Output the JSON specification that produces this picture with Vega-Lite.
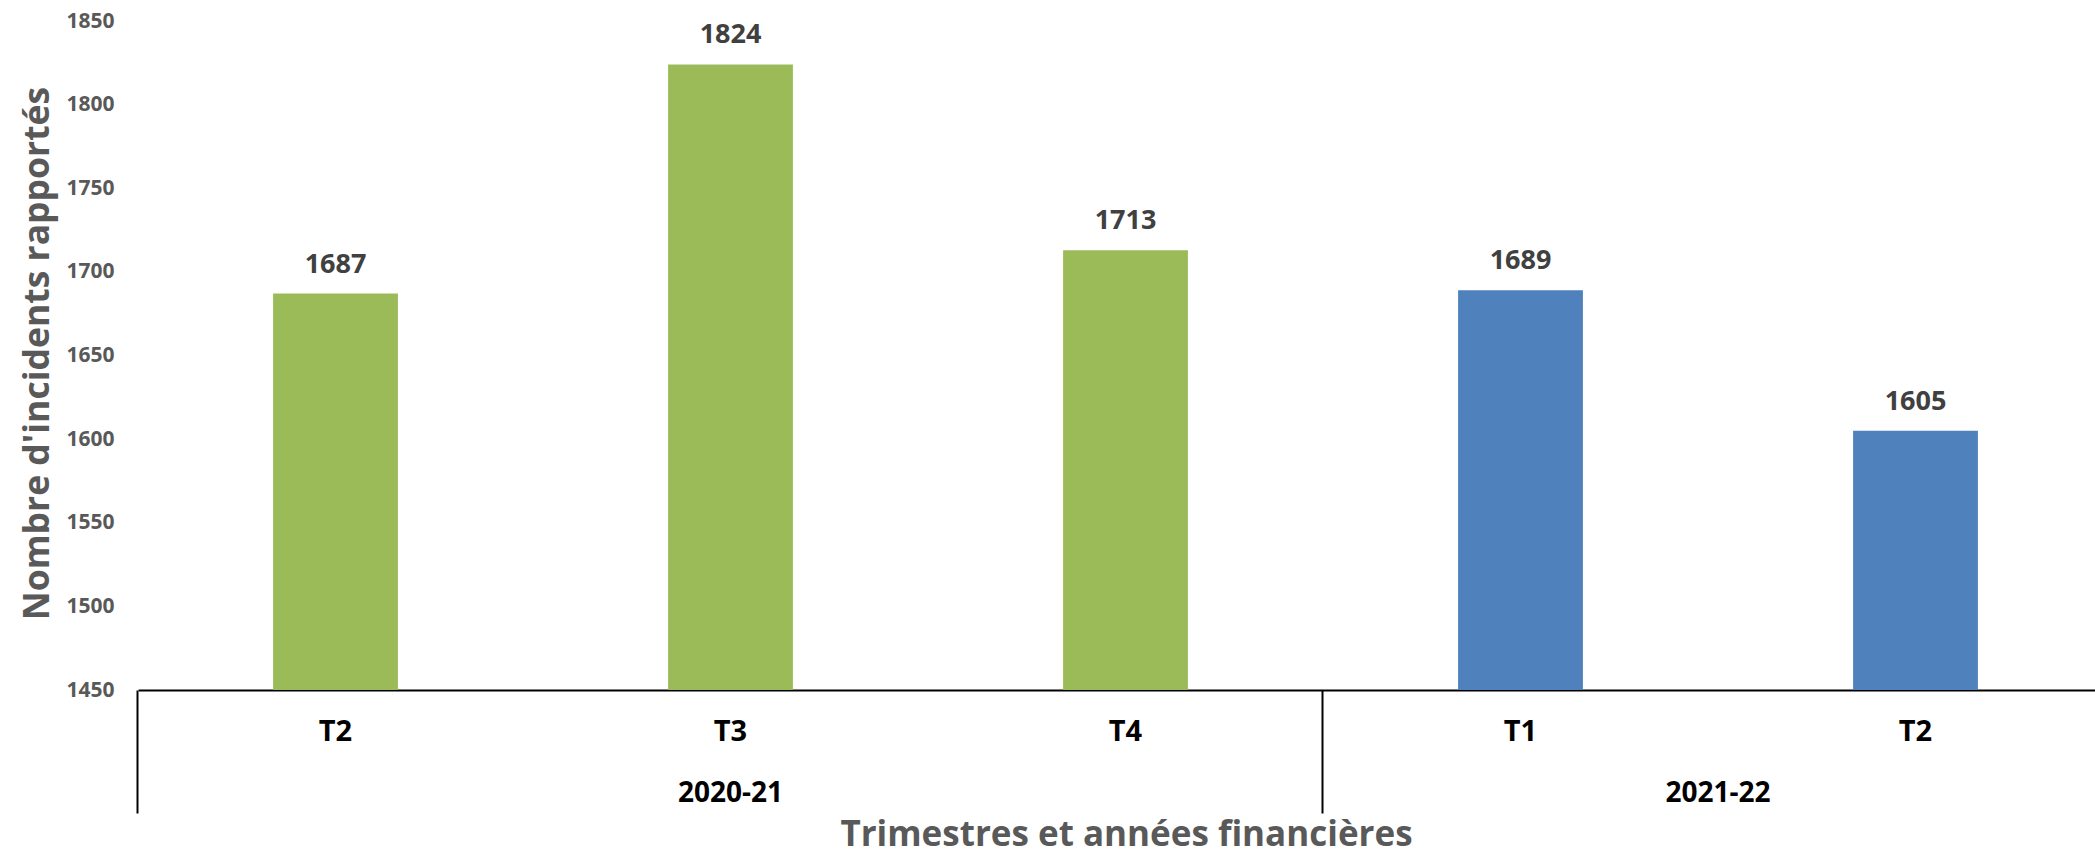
{
  "$schema": "https://vega.github.io/schema/vega-lite/v6.json",
  "autosize": {"type": "none"},
  "padding": {"left": 138, "top": 21, "right": 0, "bottom": 162},
  "width": 1957,
  "height": 669,
  "background": "white",
  "config": {"view": {"stroke": null}, "font": "Open Sans"},
  "data": {
    "values": [
      {"period": "2020-21 T2", "quarter": "T2", "year": "2020-21", "value": 1687},
      {"period": "2020-21 T3", "quarter": "T3", "year": "2020-21", "value": 1824},
      {"period": "2020-21 T4", "quarter": "T4", "year": "2020-21", "value": 1713},
      {"period": "2021-22 T1", "quarter": "T1", "year": "2021-22", "value": 1689},
      {"period": "2021-22 T2", "quarter": "T2", "year": "2021-22", "value": 1605}
    ]
  },
  "resolve": {"scale": {"x": "independent"}},
  "layer": [
    {
      "encoding": {
        "x": {
          "field": "period",
          "type": "nominal",
          "sort": null,
          "scale": {"range": [0, 1975], "paddingInner": 0.684, "paddingOuter": 0.342},
          "axis": {
            "labelExpr": "split(datum.value, ' ')[1]",
            "labelAngle": 0,
            "labelFont": "Open Sans",
            "labelFontWeight": "bold",
            "labelFontSize": 29,
            "labelColor": "#000000",
            "labelBaseline": "middle",
            "labelPadding": -82,
            "ticks": true,
            "bandPosition": -1.0825,
            "tickSize": 123,
            "tickWidth": 2,
            "tickColor": {
              "condition": {"test": "datum.value == '2020-21 T2' || datum.value == '2021-22 T1'", "value": "#000000"},
              "value": "transparent"
            },
            "domainColor": "#000000",
            "domainWidth": 2,
            "grid": false,
            "title": "Trimestres et années financières",
            "titleFont": "Open Sans",
            "titleFontWeight": "bold",
            "titleFontSize": 35,
            "titleColor": "#595959",
            "titleBaseline": "alphabetic",
            "titleX": 988,
            "titleY": 155
          }
        },
        "y": {
          "field": "value",
          "type": "quantitative",
          "scale": {"domain": [1450, 1850], "zero": false, "nice": false},
          "axis": {
            "values": [1450, 1500, 1550, 1600, 1650, 1700, 1750, 1800, 1850],
            "format": "d",
            "labelFont": "Open Sans",
            "labelFontWeight": "bold",
            "labelFontSize": 21,
            "labelColor": "#595959",
            "labelPadding": 24,
            "ticks": false,
            "domain": false,
            "grid": false,
            "title": "Nombre d'incidents rapportés",
            "titleFont": "Open Sans",
            "titleFontWeight": "bold",
            "titleFontSize": 35.5,
            "titleColor": "#595959",
            "titleBaseline": "middle",
            "titleX": -101,
            "titleY": 332
          }
        }
      },
      "layer": [
        {
          "mark": {"type": "bar", "clip": true},
          "encoding": {
            "color": {
              "field": "year",
              "type": "nominal",
              "scale": {"domain": ["2020-21", "2021-22"], "range": ["#9BBB59", "#4F81BD"]},
              "legend": null
            }
          }
        },
        {
          "mark": {"type": "text", "font": "Open Sans", "fontWeight": "bold", "fontSize": 27, "color": "#404040", "baseline": "alphabetic", "dy": -21},
          "encoding": {
            "text": {"field": "value", "type": "quantitative", "format": "d"}
          }
        }
      ]
    },
    {
      "data": {"values": [{"year": "2020-21", "mid": 1.5}, {"year": "2021-22", "mid": 4}]},
      "mark": {"type": "text", "font": "Open Sans", "fontWeight": "bold", "fontSize": 28, "color": "#000000", "baseline": "middle", "dy": 104},
      "encoding": {
        "x": {"field": "mid", "type": "quantitative", "scale": {"domain": [0, 5], "range": [0, 1975], "nice": false, "zero": false}, "axis": null},
        "y": {"datum": 1450},
        "text": {"field": "year"}
      }
    }
  ]
}
